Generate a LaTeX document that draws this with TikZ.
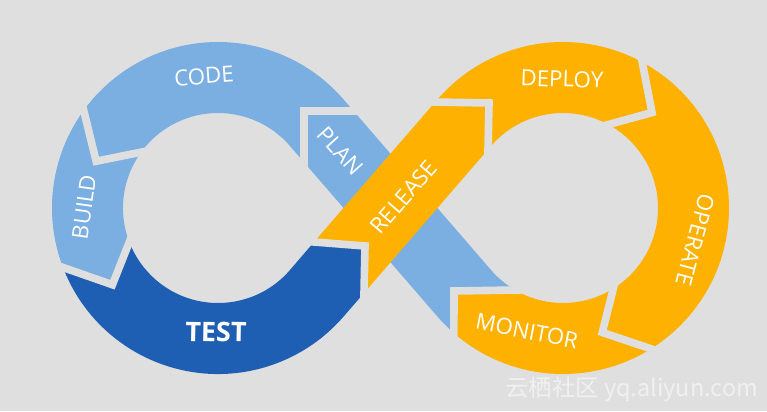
\documentclass[tikz,border=0pt]{standalone}
\usepackage{fontspec}
\setmainfont{Open Sans}
\newfontfamily\cjkfont{Noto Sans CJK SC}
\usetikzlibrary{calc}
\definecolor{bgGray}{HTML}{DFDFDF}
\definecolor{planBlue}{HTML}{7BAFE1}
\definecolor{testBlue}{HTML}{1E5FB3}
\definecolor{opsOrange}{HTML}{FFB100}

\begin{document}
\begin{tikzpicture}[x=0.03cm, y=-0.03cm,
  lbl/.style={text=white, inner sep=0pt, font=\fontsize{19}{19}\selectfont},
  gap/.style={draw=bgGray, line width=6.5pt},
  mark text/.style={text=white, text opacity=0.55, inner sep=0pt, font=\cjkfont\fontsize{20}{20}\selectfont}
]
\fill[bgGray] (0,0) rectangle (767,411);
\useasboundingbox (0,0) rectangle (767,411);

% ring centres and tangent points of the crossing bands
\coordinate (L) at (218,208);
\coordinate (R) at (563,208);
\coordinate (lo1) at ($(L)+(319.2:166)$);
\coordinate (li1) at ($(L)+(319.2:95)$);
\coordinate (lo2) at ($(L)+(40.8:166)$);
\coordinate (li2) at ($(L)+(40.8:95)$);
\coordinate (ro1) at ($(R)+(220.8:166)$);
\coordinate (ri1) at ($(R)+(220.8:95)$);
\coordinate (ro2) at ($(R)+(139.2:166)$);
\coordinate (ri2) at ($(R)+(139.2:95)$);

% cuts between the steps
\coordinate (pcO) at (354,111);
\coordinate (pcT) at (304,111);
\coordinate (pcI) at (304,162);
\coordinate (rdO) at (435,102);
\coordinate (rdT) at (489,103);
\coordinate (rdI) at (488,150);
\coordinate (trI) at (314,242);
\coordinate (trT) at (365,246);
\coordinate (trO) at (364,293);
\coordinate (mpO) at ($(R)+(131.1:166)$);
\coordinate (mpT) at (454,291);
\coordinate (mpI) at ($(R)+(120.3:95)$);
\coordinate (cbO) at ($(L)+(216:166)$);
\coordinate (cbT) at ($(L)+(201:130.5)$);
\coordinate (cbI) at ($(L)+(216:95)$);
\coordinate (btO) at ($(L)+(159:166)$);
\coordinate (btT) at ($(L)+(144:130.5)$);
\coordinate (btI) at ($(L)+(159:95)$);
\coordinate (doO) at ($(R)+(298.5:166)$);
\coordinate (doT) at ($(R)+(313:130.5)$);
\coordinate (doI) at ($(R)+(298.5:95)$);
\coordinate (omO) at ($(R)+(58:166)$);
\coordinate (omT) at ($(R)+(72.5:130.5)$);
\coordinate (omI) at ($(R)+(58:95)$);

\fill[planBlue] (mpO) -- (mpT) -- (mpI) arc[start angle=120.3, end angle=139.2, radius=95]
  -- (lo1) arc[start angle=319.2, end angle=159, radius=166]
  -- (btT) -- (btI) arc[start angle=159, end angle=319.2, radius=95]
  -- (ro2) arc[start angle=139.2, end angle=131.1, radius=166] -- cycle;
\fill[testBlue] (btO) arc[start angle=159, end angle=40.8, radius=166]
  -- (trO) -- (trT) -- (trI) -- (li2) arc[start angle=40.8, end angle=159, radius=95]
  -- (btT) -- cycle;
\fill[opsOrange] (trI) -- (trT) -- (trO) -- (ri1) arc[start angle=220.8, end angle=480.3, radius=95]
  -- (mpT) -- (mpO) arc[start angle=491.1, end angle=220.8, radius=166] -- cycle;

\foreach \c in {pc,cb,bt,tr,rd,do,om,mp}
  \draw[gap] ($(\c T)!1.25!(\c O)$) -- (\c T) -- ($(\c T)!1.25!(\c I)$);

\node[lbl, rotate=4] (code) at (204,76) {CODE};
\node[lbl, rotate=82] (build) at (84,207) {BUILD};
\node[lbl, rotate=-1, font=\bfseries\fontsize{23}{23}\selectfont] (test) at (216,332) {TEST};
\node[lbl, rotate=-48] (plan) at (340,151) {PLAN};
\node[lbl, rotate=49] (release) at (404,197) {RELEASE};
\node[lbl, rotate=-2] (deploy) at (562,79) {DEPLOY};
\node[lbl, rotate=-105] (operate) at (695,240) {OPERATE};
\node[lbl, rotate=-11] (monitor) at (527,331) {MONITOR};
\node[mark text, anchor=west] (mark) at (505,389) {云栖社区 yq.aliyun.com};
\end{tikzpicture}
\end{document}
